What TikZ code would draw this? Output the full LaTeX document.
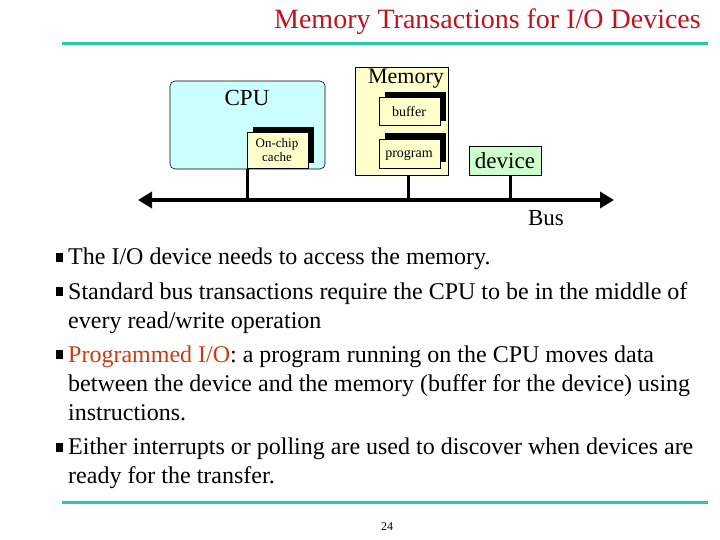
\documentclass[tikz,border=0pt]{standalone}
\usepackage{fontspec}
\setmainfont{Liberation Serif}
\usetikzlibrary{arrows.meta}
\definecolor{teal1}{RGB}{40,200,170}
\definecolor{cpuc}{RGB}{204,255,255}
\definecolor{memc}{RGB}{255,255,204}
\definecolor{devc}{RGB}{204,255,204}
\definecolor{red1}{RGB}{190,20,30}
\definecolor{red2}{RGB}{200,60,20}
\tikzset{box/.style={draw=black,line width=0.6pt,inner sep=0pt},
 shad/.style={fill=black},
 stem/.style={line width=3pt},
 bul/.style={fill=black}}
\begin{document}
\begin{tikzpicture}[x=1pt,y=-1pt]
\useasboundingbox (0,0) rectangle (720,540);
\node[anchor=base east,font=\fontsize{28}{30}\selectfont,text=red1,inner sep=0pt] (title) at (701,29) {Memory Transactions for I/O Devices};
\draw[teal1,line width=3pt] (62,44) -- (708,44);
\draw[teal1,line width=3pt] (62,502) -- (708,502);
% CPU
\draw[box,fill=cpuc,rounded corners=5pt] (170,81) rectangle (325,169);
\node[font=\fontsize{23}{24}\selectfont] (cpu) at (247,98) {CPU};
\fill[shad] (253,127) rectangle (314,163);
\draw[box,fill=memc] (247,132) rectangle (308,168);
\node[font=\fontsize{13}{13}\selectfont,align=center,inner sep=0pt] (cache) at (277,150) {On-chip\\[1pt]cache};
% Memory
\draw[box,fill=memc] (355,67) rectangle (448,175);
\node[font=\fontsize{22}{24}\selectfont] (mem) at (406,79) {Memory};
\fill[shad] (385,92) rectangle (446,121);
\draw[box,fill=memc] (379,97) rectangle (440,125);
\node[font=\fontsize{14}{14}\selectfont] (buf) at (409,112) {buffer};
\fill[shad] (385,133) rectangle (446,162);
\draw[box,fill=memc] (379,139) rectangle (440,168);
\node[font=\fontsize{14}{14}\selectfont] (prog) at (409,155) {program};
% device
\node[box,fill=devc,minimum width=72pt,minimum height=29pt,font=\fontsize{23}{24}\selectfont] (dev) at (505,160.5) {device};
% bus
\coordinate (bl) at (138,200); \coordinate (br) at (614,200);
\draw[line width=4.5pt,{Triangle[length=14pt,width=16pt]}-{Triangle[length=14pt,width=16pt]}] (bl) -- (br);
\coordinate (c1) at (247,169); \coordinate (c2) at (247,200);
\coordinate (m1) at (408,175); \coordinate (m2) at (408,200);
\coordinate (d2) at (510,200);
\draw[stem] (c1) -- (c2);
\draw[stem] (m1) -- (m2);
\draw[stem] (dev.south -| d2) -- (d2);
\node[font=\fontsize{23}{24}\selectfont] (bus) at (546,218) {Bus};
% bullets
\tikzset{txt/.style={anchor=base west,font=\fontsize{24}{29}\selectfont,inner sep=0pt}}
\fill[bul] (56,253) rectangle +(7,9);
\fill[bul] (56,287) rectangle +(7,9);
\fill[bul] (56,350) rectangle +(7,9);
\fill[bul] (56,443) rectangle +(7,9);
\node[txt] (t1) at (68,264) {The I/O device needs to access the memory.};
\node[txt] (t2) at (68,299) {\begin{tabular}[t]{@{}l@{}}Standard bus transactions require the CPU to be in the middle of\\every read/write operation\end{tabular}};
\node[txt] (t3) at (68,362) {\begin{tabular}[t]{@{}l@{}}\textcolor{red2}{Programmed I/O}: a program running on the CPU moves data\\between the device and the memory (buffer for the device) using\\instructions.\end{tabular}};
\node[txt] (t4) at (68,454) {\begin{tabular}[t]{@{}l@{}}Either interrupts or polling are used to discover when devices are\\ready for the transfer.\end{tabular}};
\node[font=\fontsize{12}{12}\selectfont] (pg) at (387,527) {24};
\end{tikzpicture}
\end{document}
